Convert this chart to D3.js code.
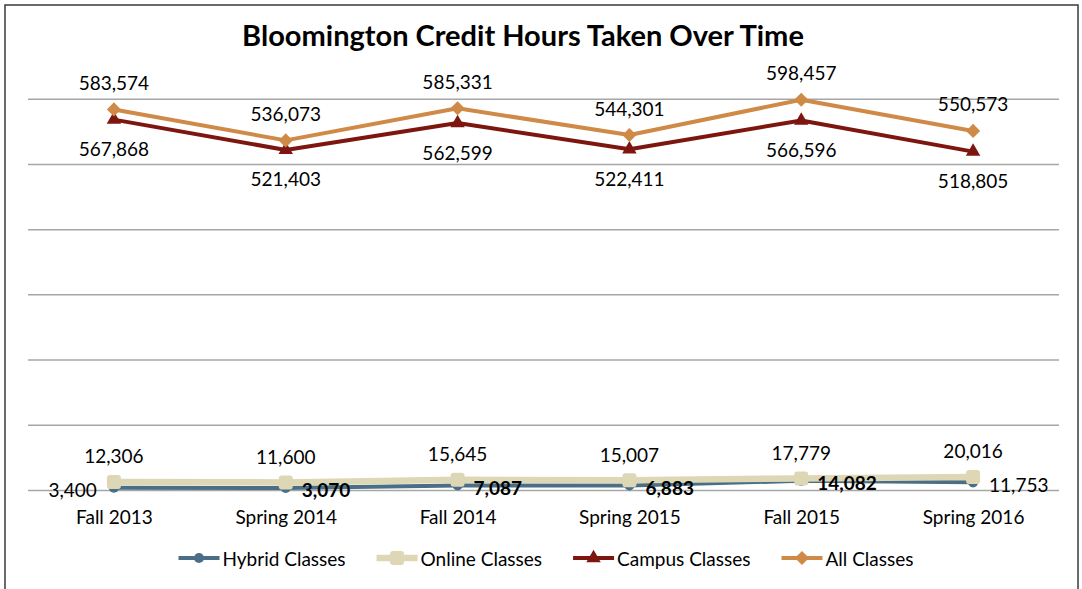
<!DOCTYPE html>
<html>
<head>
<meta charset="utf-8">
<script src="https://cdn.jsdelivr.net/npm/d3@7"></script>
<style>
  body { margin: 0; background: #fff; }
  svg text { font-family: Lato, "Open Sans", sans-serif; fill: #000; }
</style>
</head>
<body>
<svg width="1082" height="589"></svg>
<script>
const terms = ['Fall 2013', 'Spring 2014', 'Fall 2014', 'Spring 2015', 'Fall 2015', 'Spring 2016'];
const hybrid = [3400, 3070, 7087, 6883, 14082, 11753];
const online = [12306, 11600, 15645, 15007, 17779, 20016];
const campus = [567868, 521403, 562599, 522411, 566596, 518805];
const allClasses = [583574, 536073, 585331, 544301, 598457, 550573];
const yTicks = [0, 100000, 200000, 300000, 400000, 500000, 600000];

const svg = d3.select('svg');

// chart frame
svg.append('rect')
  .attr('x', 5).attr('y', 5)
  .attr('width', 1073).attr('height', 600)
  .attr('fill', '#fff')
  .attr('stroke', '#3a3a3a')
  .attr('stroke-width', 1.5);

svg.append('text')
  .attr('x', 523).attr('y', 46)
  .attr('text-anchor', 'middle')
  .attr('font-size', 29)
  .attr('font-weight', 'bold')
  .text('Bloomington Credit Hours Taken Over Time');

const xScale = d3.scalePoint()
  .domain(terms)
  .range([28, 1059])
  .padding(0.5);

const yScale = d3.scaleLinear()
  .domain([0, 600000])
  .range([490, 98.7]);

// gridlines
const yAxisG = svg.append('g')
  .attr('transform', 'translate(28,0)')
  .call(d3.axisLeft(yScale).tickValues(yTicks).tickSize(-1031).tickFormat(''));
yAxisG.select('.domain').remove();
yAxisG.selectAll('.tick line').attr('stroke', '#a6a6a6').attr('stroke-width', 1.5);

// category labels
const xAxisG = svg.append('g')
  .attr('transform', 'translate(0,490)')
  .call(d3.axisBottom(xScale).tickSize(0).tickPadding(21));
xAxisG.select('.domain').remove();
xAxisG.selectAll('text')
  .attr('font-size', 19)
  .attr('font-family', 'Lato, sans-serif')
  .attr('fill', '#000');

const series = [
  {name: 'Hybrid Classes', values: hybrid, color: '#4a6e86', width: 4, marker: 'circle'},
  {name: 'Online Classes', values: online, color: '#ddd7b6', width: 6.5, marker: 'square'},
  {name: 'Campus Classes', values: campus, color: '#7e1610', width: 4, marker: 'triangle'},
  {name: 'All Classes', values: allClasses, color: '#d08a47', width: 4, marker: 'diamond'}
];

const symbolOf = {
  circle: d3.symbol().type(d3.symbolCircle).size(80),
  triangle: d3.symbol().type(d3.symbolTriangle).size(90),
  diamond: d3.symbol().type(d3.symbolSquare).size(100)
};

const lineGenerator = d3.line()
  .x((d, i) => xScale(terms[i]))
  .y(d => yScale(d));

function drawMarker(g, s, x, y) {
  if (s.marker === 'square') {
    g.append('rect')
      .attr('x', x - 7).attr('y', y - 7)
      .attr('width', 14).attr('height', 14)
      .attr('rx', 3)
      .attr('fill', s.color);
  } else {
    const rot = s.marker === 'diamond' ? ' rotate(45)' : '';
    g.append('path')
      .attr('d', symbolOf[s.marker]())
      .attr('transform', `translate(${x},${y})${rot}`)
      .attr('fill', s.color);
  }
}

series.forEach(s => {
  const g = svg.append('g');
  g.append('path')
    .attr('d', lineGenerator(s.values))
    .attr('fill', 'none')
    .attr('stroke', s.color)
    .attr('stroke-width', s.width)
    .attr('stroke-linejoin', 'round');
  s.values.forEach((v, i) => drawMarker(g, s, xScale(terms[i]), yScale(v)));
});

// data labels
const fmt = d3.format(',');
const labelG = svg.append('g').attr('font-size', 19);

function addLabels(values, dx, dy) {
  values.forEach((v, i) => {
    labelG.append('text')
      .attr('x', xScale(terms[i]) + dx)
      .attr('y', yScale(v) + dy)
      .attr('text-anchor', 'middle')
      .attr('dominant-baseline', 'central')
      .text(fmt(v));
  });
}

addLabels(allClasses, 0, -27);
addLabels(campus, 0, 29);
addLabels(online, 0, -26);
// hybrid labels: first on the left, others on the right
hybrid.forEach((v, i) => {
  const left = i === 0;
  labelG.append('text')
    .attr('x', xScale(terms[i]) + (left ? -17 : 16))
    .attr('y', yScale(v) + 2)
    .attr('text-anchor', left ? 'end' : 'start')
    .attr('dominant-baseline', 'central')
    .attr('font-weight', (i === 0 || i === 5) ? 'normal' : 'bold')
    .text(fmt(v));
});

// legend
const legend = svg.append('g').attr('transform', 'translate(0,558)');
let lx = 0;
const items = [];
series.forEach(s => {
  const item = legend.append('g');
  item.append('line')
    .attr('x1', 0).attr('x2', 41)
    .attr('stroke', s.color)
    .attr('stroke-width', s.width);
  drawMarker(item, s, 20.5, 0);
  const t = item.append('text')
    .attr('x', 44)
    .attr('dominant-baseline', 'central')
    .attr('font-size', 19)
    .text(s.name);
  const w = 44 + t.node().getComputedTextLength();
  items.push({item, x: lx});
  lx += w + 31;
});
const totalW = lx - 31;
const startX = 546 - totalW / 2;
items.forEach(d => d.item.attr('transform', `translate(${startX + d.x},0)`));
</script>
</body>
</html>
